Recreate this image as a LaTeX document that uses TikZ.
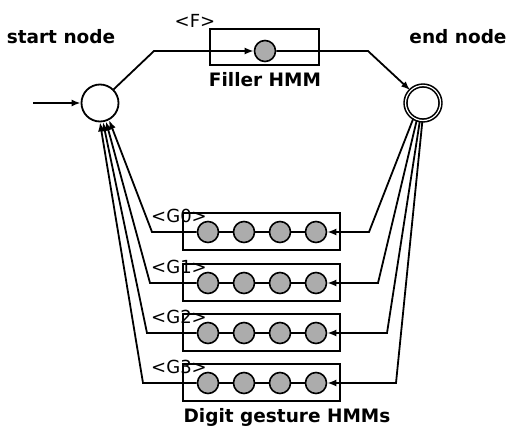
\documentclass[tikz,border=0pt]{standalone}
\usepackage{fontspec}
\setmainfont{DejaVu Sans}
\usetikzlibrary{arrows.meta}
\begin{document}
\begin{tikzpicture}[x=1pt,y=-1pt,line width=1.8pt,
  state/.style={circle,draw,fill=white,minimum size=37pt,inner sep=0pt,line width=1.8pt},
  endstate/.style={circle,draw,fill=white,minimum size=35pt,inner sep=0pt,line width=1.6pt,double=white,double distance=1.2pt},
  hmmstate/.style={circle,draw,fill=gray!65,minimum size=21pt,inner sep=0pt,line width=1.6pt},
  hmmbox/.style={draw,line width=1.5pt,inner sep=0pt},
  arr/.style={-{Latex[length=9pt,width=7pt]}},
  lbl/.style={font=\fontsize{18.5}{20}\selectfont\bfseries,inner sep=0pt},
  tag/.style={font=\fontsize{18}{19}\selectfont,inner sep=0pt}]
\useasboundingbox (0,0) rectangle (511,439);

% start and end
\node[state] (start) at (100,103) {};
\node[endstate] (end) at (423,103) {};
\coordinate (in) at (33,103);
\draw[arr] (in) -- (start);
\node[lbl] (startlbl) at (61,37) {start node};
\node[lbl] (endlbl) at (458,37) {end node};

% filler HMM
\node[hmmbox,minimum width=109pt,minimum height=36pt] (fbox) at (264.5,47) {};
\node[hmmstate] (fstate) at (265,51) {};
\node[tag] (ftag) at (195,21) {<F>};
\node[lbl] (flbl) at (265,80) {Filler HMM};
\coordinate (f1) at (154,51);
\coordinate (f2) at (368,51);
\draw[arr] (start.45) -- (f1) -- (fstate);
\draw[arr] (fstate) -- (f2) -- (end.135);

% digit gesture HMMs
\foreach \k/\cy/\bl/\br/\ea/\sa in {0/232/152/369/238/298, 1/283/150/378/250/288, 2/333/147/387/260/279, 3/383/143/396/268/270}{
  \node[hmmbox,minimum width=157pt,minimum height=37pt] (g\k box) at (261.5,\cy-0.5) {};
  \foreach \j/\x in {1/208,2/244,3/280,4/316}{
    \node[hmmstate] (g\k c\j) at (\x,\cy) {};
  }
  \draw (g\k c1) -- (g\k c2);
  \draw (g\k c2) -- (g\k c3);
  \draw (g\k c3) -- (g\k c4);
  \node[tag] (g\k tag) at (179,\cy-16) {<G\k>};
  \coordinate (g\k r) at (\br,\cy);
  \coordinate (g\k l) at (\bl,\cy);
  \draw[arr] (end.\ea) -- (g\k r) -- (g\k c4);
  \draw[arr] (g\k c1) -- (g\k l) -- (start.\sa);
}
\node[lbl] (dlbl) at (287,417) {Digit gesture HMMs};
\end{tikzpicture}
\end{document}
